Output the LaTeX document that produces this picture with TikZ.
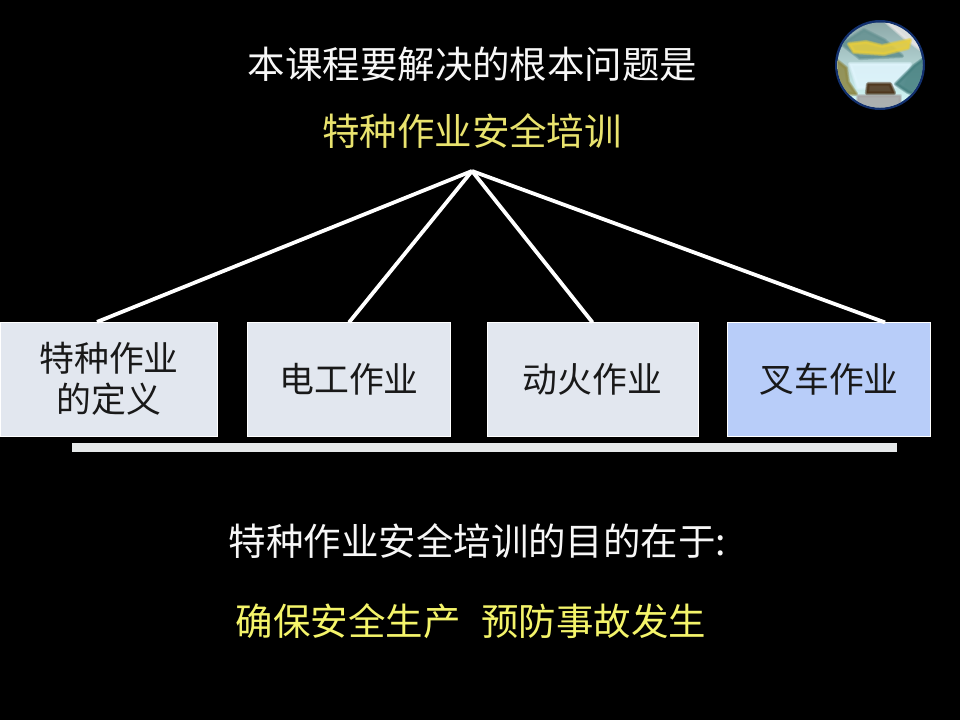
\documentclass[tikz,border=0pt]{standalone}
\usepackage{fontspec}
\setmainfont{Noto Sans CJK SC}
\definecolor{boxgrau}{HTML}{E2E7EF}
\definecolor{boxblau}{HTML}{B8CDF9}
\definecolor{balken}{HTML}{E6E9EA}
\definecolor{gelbtext}{HTML}{E9E36E}
\definecolor{gelbhell}{HTML}{F4F46A}
\definecolor{weisstext}{HTML}{F7F7F7}
\definecolor{ringblau}{HTML}{12306E}
\usetikzlibrary{positioning}
% weiche Flaechen fuer das Logo
\newcommand{\weich}[2]{\foreach \w in {3pt,2pt,1pt,0.2pt} \path[draw=#1, fill=#1, line width=\w, line join=round, opacity=0.4] #2;}

\begin{document}
\begin{tikzpicture}[x=0.25mm, y=-0.25mm,
			titel/.style={font=\fontsize{26.65pt}{30pt}\selectfont, inner sep=0pt, outer sep=0pt},
			kasten/.style={draw=white, line width=0.3pt, fill=boxgrau, text=black!90, inner sep=0pt, outer sep=0pt,
				minimum height=81.2pt, align=center, font=\fontsize{24.8pt}{29pt}\selectfont},
			linie/.style={draw=white, line width=2.7pt}]
			%Hintergrund
			\fill[black] (0,0) rectangle (960,720);
			\useasboundingbox (0,0) rectangle (960,720);
			%Logo
			\fill[ringblau] (880,65) circle (45);
			\begin{scope}
				\clip (880,65) circle (42.5);
				\shade[top color=teal!30!gray!70!white, bottom color=white!85!cyan] (830,20) rectangle (930,110);
				\weich{white!80!gray}{(882,18) -- (905,38) -- (930,56) -- (930,18) -- cycle}
				\weich{teal!40!gray!85!white}{(842,44) -- (864,30) -- (884,40) -- (902,56) -- (860,58) -- cycle}
				\weich{white!88!cyan}{(850,64) -- (910,64) -- (902,86) -- (858,88) -- cycle}
				\weich{teal!45!gray}{(925,58) -- (914,66) -- (896,84) -- (908,92) -- (925,98) -- cycle}
				\weich{olive!50!gray}{(836,60) -- (846,68) -- (848,82) -- (856,94) -- (836,92) -- cycle}
				\weich{gray!70!white}{(858,96) -- (900,96) -- (900,110) -- (858,110) -- cycle}
				\weich{black!60!brown}{(868,84) -- (890,84) -- (894,93) -- (867,93) -- cycle}
				\weich{brown!45!yellow!85!white}{(849,44) -- (866,42) -- (882,46) -- (910,40) -- (908,48) -- (884,54) -- (854,52) -- cycle}
			\end{scope}
			%Ueberschriften
			\node[titel, text=weisstext] (frage) at (472.5,64) {本课程要解决的根本问题是};
			\node[titel, text=gelbtext] (thema) at (472,131) {特种作业安全培训};
			\coordinate (spitze) at (472,171);
			%Kaesten
			\node[kasten, minimum width=154.4pt] (definition) at (109,379) {特种作业\\的定义};
			\node[kasten, minimum width=144.6pt] (elektro) at (349,379.5) {电工作业};
			\node[kasten, minimum width=149.7pt] (feuer) at (592.5,379.5) {动火作业};
			\node[kasten, minimum width=144.6pt, fill=boxblau] (stapler) at (829,379.5) {叉车作业};
			%Linien
			\draw[linie] (spitze) -- ([xshift=-3mm]definition.north);
			\foreach \ziel in {elektro, feuer} \draw[linie] (spitze) -- (\ziel.north);
			\draw[linie] (spitze) -- ([xshift=14mm]stapler.north);
			%Balken
			\fill[balken] (72,443) rectangle (897,452);
			%Unten
			\node[titel, text=weisstext] (zweck) at (477.5,541) {特种作业安全培训的目的在于:};
			\node[titel, text=gelbhell] (ziel) at (471,621) {确保安全生产\hspace{0.55em}预防事故发生};
		\end{tikzpicture}
\end{document}
